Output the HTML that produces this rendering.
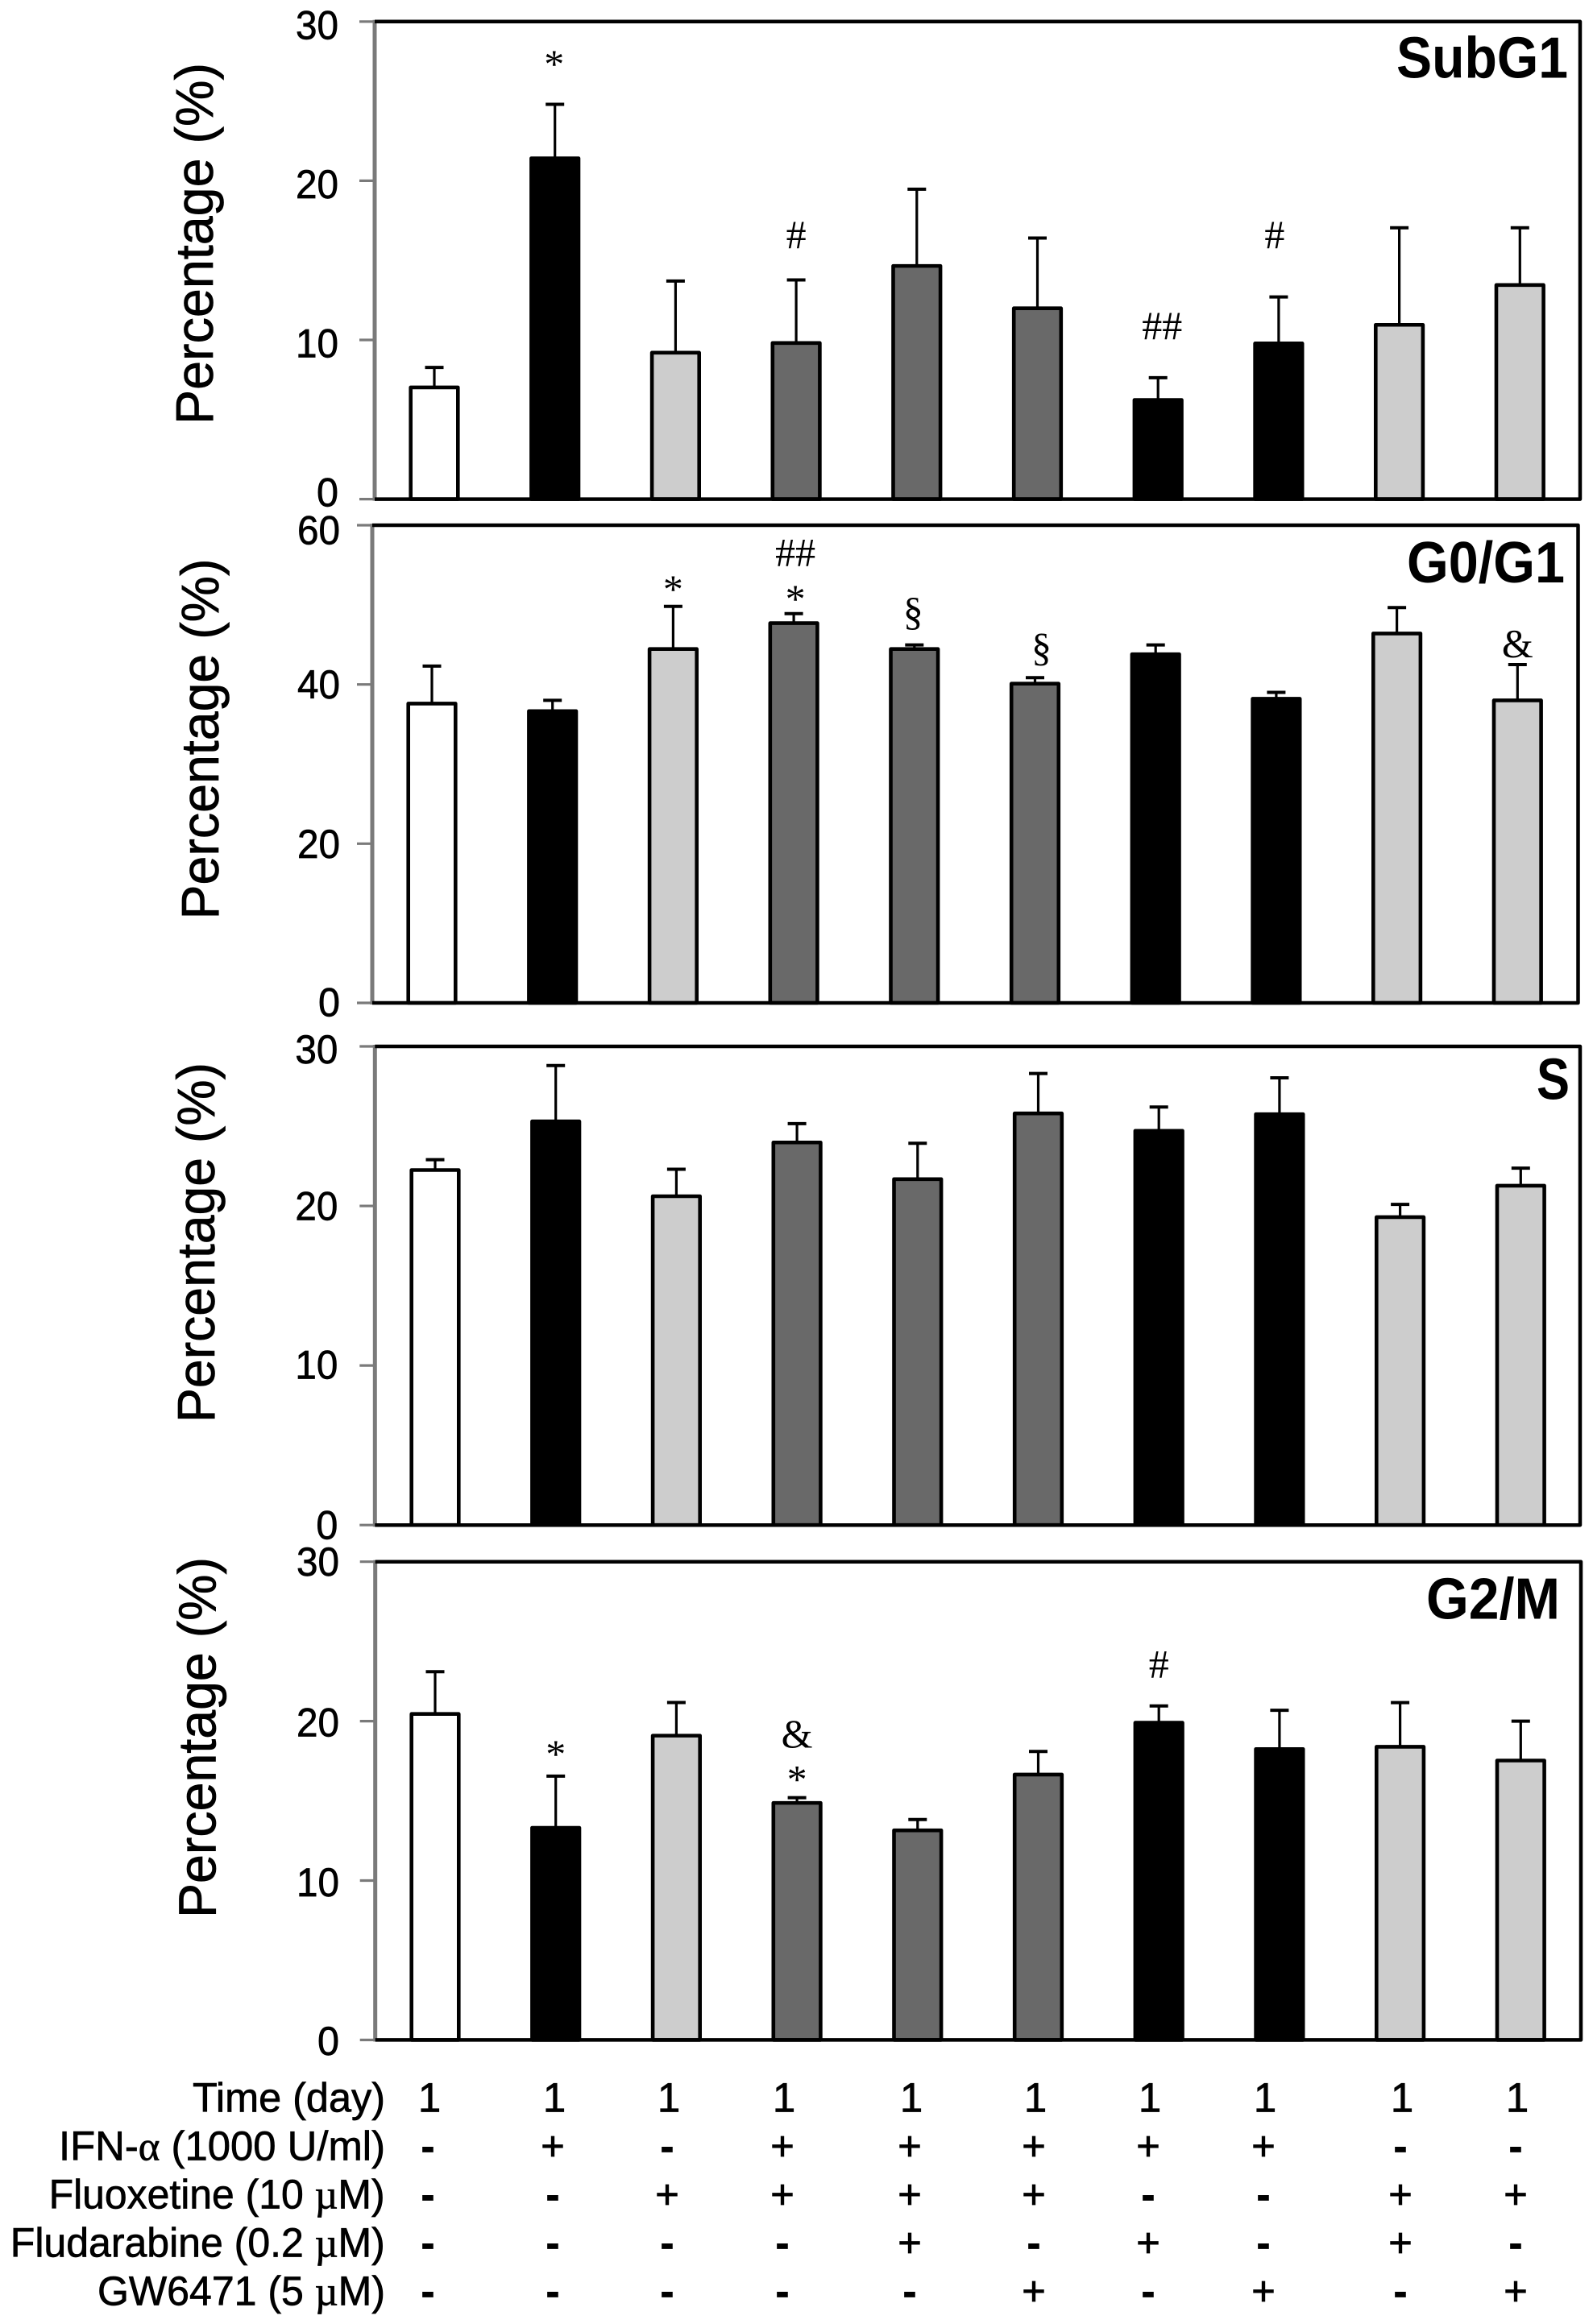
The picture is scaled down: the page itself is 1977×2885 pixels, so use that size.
<!DOCTYPE html>
<html lang="en">
<head>
<meta charset="utf-8">
<title>Cell cycle phase percentages</title>
<style>
  html, body { margin: 0; padding: 0; background: #fff; }
  svg { display: block; }
  text { fill: #000; font-family: "Liberation Sans", Arial, sans-serif; }
  .sig { font-family: "Liberation Serif", "Times New Roman", serif; font-size: 50px; text-anchor: middle; }
  .greek { font-family: "Liberation Serif", "Times New Roman", serif; }
  .heavy { stroke: #000; stroke-width: 0.7px; }
</style>
</head>
<body>
<svg id="figure" xmlns="http://www.w3.org/2000/svg" width="1977" height="2885" viewBox="0 0 1977 2885">
  <rect x="0" y="0" width="1977" height="2885" fill="#fff"/>
  <g id="panels"></g>
  <g id="treatment-table">
    <text class="heavy" x="239" y="2621.7" font-size="51" textLength="239" lengthAdjust="spacingAndGlyphs">Time (day)</text>
    <text class="heavy" x="73" y="2681.7" font-size="51" textLength="405" lengthAdjust="spacingAndGlyphs">IFN-<tspan class="greek">α</tspan> (1000 U/ml)</text>
    <text class="heavy" x="60.6" y="2741.7" font-size="51" textLength="417" lengthAdjust="spacingAndGlyphs">Fluoxetine (10 <tspan class="greek">µ</tspan>M)</text>
    <text class="heavy" x="12.8" y="2801.7" font-size="51" textLength="465" lengthAdjust="spacingAndGlyphs">Fludarabine (0.2 <tspan class="greek">µ</tspan>M)</text>
    <text class="heavy" x="121" y="2861.7" font-size="51" textLength="357" lengthAdjust="spacingAndGlyphs">GW6471 (5 <tspan class="greek">µ</tspan>M)</text>
  </g>
</svg>
<script>
// ---- chart data ----
const groupCategories = ['control', 'ifn', 'fluoxetine', 'ifn-fluoxetine', 'ifn-fluoxetine-fludarabine', 'ifn-fluoxetine-gw6471', 'ifn-fludarabine', 'ifn-gw6471', 'fluoxetine-fludarabine', 'fluoxetine-gw6471'];
const barFills = ['#ffffff', '#000000', '#cdcdcd', '#696969', '#696969', '#696969', '#000000', '#000000', '#cdcdcd', '#cdcdcd'];

const subG1Means = [7.07, 21.46, 9.25, 9.86, 14.7, 12.04, 6.28, 9.83, 11.0, 13.5];
const subG1Errors = [1.2, 3.34, 4.45, 3.91, 4.77, 4.36, 1.35, 2.87, 6.05, 3.55];
const g0g1Means = [37.7, 36.75, 44.55, 47.8, 44.55, 40.2, 43.9, 38.3, 46.5, 38.1];
const g0g1Errors = [4.6, 1.25, 5.25, 1.1, 0.41, 0.65, 1.06, 0.7, 3.16, 4.4];
const sMeans = [22.3, 25.35, 20.66, 24.03, 21.73, 25.85, 24.76, 25.8, 19.35, 21.32];
const sErrors = [0.6, 3.45, 1.64, 1.13, 2.2, 2.45, 1.44, 2.23, 0.75, 1.05];
const g2mMeans = [20.5, 13.36, 19.14, 14.92, 13.2, 16.7, 19.95, 18.3, 18.44, 17.58];
const g2mErrors = [2.6, 3.19, 2.03, 0.28, 0.63, 1.4, 1.0, 2.38, 2.72, 2.42];

const ticks30 = [0, 10, 20, 30];
const ticks60 = [0, 20, 40, 60];

const timeRow = ['1', '1', '1', '1', '1', '1', '1', '1', '1', '1'];
const ifnRow = ['-', '+', '-', '+', '+', '+', '+', '+', '-', '-'];
const fluoxetineRow = ['-', '-', '+', '+', '+', '+', '-', '-', '+', '+'];
const fludarabineRow = ['-', '-', '-', '-', '+', '-', '+', '-', '+', '-'];
const gw6471Row = ['-', '-', '-', '-', '-', '+', '-', '+', '-', '+'];

// ---- layout ----
const SVG_NS = 'http://www.w3.org/2000/svg';
const panelsRoot = document.getElementById('panels');
const tableRoot = document.getElementById('treatment-table');

const panelLayouts = [
  { key: 'subg1', title: 'SubG1', means: subG1Means, errors: subG1Errors, ticks: ticks30,
    axisX: 465, right: 1961, top: 26.8, bottom: 619.6, firstBar: 539, step: 149.7,
    labelRight: 420, labelNudge: [-8.6, 4, 4, 4],
    titleX: 1733, titleY: 96.5, titleW: 213,
    yTitleX: 264, yTitleY: 302.5, yTitleW: 449,
    marks: [ {i: 1, t: '*', gap: 33.6, dx: -1}, {i: 3, t: '#', gap: 39.5, dx: 0}, {i: 6, t: '##', gap: 47.8, dx: 5}, {i: 7, t: '#', gap: 60.6, dx: -5} ] },
  { key: 'g0g1', title: 'G0/G1', means: g0g1Means, errors: g0g1Errors, ticks: ticks60,
    axisX: 462, right: 1958.5, top: 652, bottom: 1245, firstBar: 536, step: 149.7,
    labelRight: 422, labelNudge: [-1, 0, 0, 6],
    titleX: 1746, titleY: 723, titleW: 196,
    yTitleX: 271, yTitleY: 917.5, yTitleW: 448,
    marks: [ {i: 2, t: '*', gap: 4.8, dx: 0}, {i: 3, t: '*', gap: 1.7, dx: 2}, {i: 3, t: '##', gap: 59, dx: 2}, {i: 4, t: '§', gap: 24.7, dx: -1.5}, {i: 5, t: '§', gap: 20.7, dx: 8}, {i: 9, t: '&', gap: 9.5, dx: 0} ] },
  { key: 's', title: 'S', means: sMeans, errors: sErrors, ticks: ticks30,
    axisX: 465.3, right: 1961, top: 1299, bottom: 1893.2, firstBar: 540, step: 149.7,
    labelRight: 419.4, labelNudge: [0, -1, 0, 3.6],
    titleX: 1907, titleY: 1364.5, titleW: 41,
    yTitleX: 266, yTitleY: 1542.5, yTitleW: 447,
    marks: [] },
  { key: 'g2m', title: 'G2/M', means: g2mMeans, errors: g2mErrors, ticks: ticks30,
    axisX: 465.7, right: 1962, top: 1938.7, bottom: 2532.4, firstBar: 540, step: 149.7,
    labelRight: 421, labelNudge: [1, 2, 1.5, 0],
    titleX: 1770, titleY: 2009.5, titleW: 166,
    yTitleX: 267.4, yTitleY: 2157, yTitleW: 448,
    marks: [ {i: 1, t: '*', gap: 10.9, dx: 0}, {i: 3, t: '*', gap: 6, dx: 0}, {i: 3, t: '&', gap: 62.8, dx: 0}, {i: 6, t: '#', gap: 35.3, dx: 0} ] }
];

function make(tag, attrs, parent) {
  const el = document.createElementNS(SVG_NS, tag);
  Object.keys(attrs).forEach(function (k) { el.setAttribute(k, attrs[k]); });
  parent.appendChild(el);
  return el;
}

panelLayouts.forEach(function (p) {
  const domainMax = p.ticks[p.ticks.length - 1];
  const yScale = function (v) { return p.bottom - (v / domainMax) * (p.bottom - p.top); };
  const xScale = function (i) { return p.firstBar + i * p.step; };

  const g = make('g', {}, panelsRoot);
  
  

  // y axis line
  const axis = make('line', { x1: p.axisX, x2: p.axisX, y1: p.top - 2, y2: p.bottom + 2, stroke: '#7a7a7a', 'stroke-width': 5 }, g);
  
  

  // ticks + labels
  p.ticks.forEach(function (t, idx) {
    const tick = make('line', { x1: p.axisX - 19, x2: p.axisX, y1: yScale(t), y2: yScale(t), stroke: '#7a7a7a', 'stroke-width': 3.2 }, g);
    
    
    const lab = make('text', { x: p.labelRight, y: yScale(t) + 17.5 + p.labelNudge[idx], 'font-size': 50, 'text-anchor': 'end', textLength: String(t).length === 2 ? 53 : 27, lengthAdjust: 'spacingAndGlyphs', 'class': 'heavy' }, g);
    lab.textContent = String(t);
    
    
  });

  // y title
  const yt = make('text', {
    x: 0, y: 0, 'font-size': 66, 'text-anchor': 'middle',
    textLength: p.yTitleW, lengthAdjust: 'spacingAndGlyphs',
    transform: 'translate(' + p.yTitleX + ' ' + p.yTitleY + ') rotate(-90)',
    'class': 'heavy'
  }, g);
  yt.textContent = 'Percentage (%)';
  
  

  // bars and error bars
  groupCategories.forEach(function (cat, i) {
    const cx = xScale(i);
    const mean = p.means[i];
    const upper = mean + p.errors[i];

    const stem = make('line', { x1: cx, x2: cx, y1: yScale(upper), y2: yScale(mean) + 3, stroke: '#000', 'stroke-width': 3.2 }, g);
    
    

    const cap = make('line', { x1: cx - 11.5, x2: cx + 11.5, y1: yScale(upper), y2: yScale(upper), stroke: '#000', 'stroke-width': 4 }, g);
    
    

    const topY = yScale(mean) + 1;
    const bar = make('rect', { x: cx - 29.3, y: topY, width: 58.6, height: p.bottom - topY, fill: barFills[i], stroke: '#000', 'stroke-width': 4.6, 'stroke-linejoin': 'round' }, g);
    
    
  });

  // frame (top, right, bottom)
  const frame = make('path', {
    d: 'M' + p.axisX + ' ' + p.top + 'H' + p.right + 'V' + p.bottom + 'H' + p.axisX,
    fill: 'none', stroke: '#000', 'stroke-width': 4.5, 'stroke-linejoin': 'round'
  }, g);
  
  

  // significance marks
  p.marks.forEach(function (m, n) {
    const upper = p.means[m.i] + p.errors[m.i];
    const mk = make('text', { x: xScale(m.i) + m.dx, y: yScale(upper) - m.gap, 'class': 'sig' }, g);
    mk.textContent = m.t;
    
    
  });

  // panel title
  const title = make('text', { x: p.titleX, y: p.titleY, 'font-size': 72, 'font-weight': 'bold', textLength: p.titleW, lengthAdjust: 'spacingAndGlyphs' }, g);
  title.textContent = p.title;
  
  
});

// treatment table symbols
const tableLayout = [
  { key: 'time', cells: timeRow, baseline: 2621.7 },
  { key: 'ifn', cells: ifnRow, baseline: 2681.7 },
  { key: 'fluoxetine', cells: fluoxetineRow, baseline: 2741.7 },
  { key: 'fludarabine', cells: fludarabineRow, baseline: 2801.7 },
  { key: 'gw6471', cells: gw6471Row, baseline: 2861.7 }
];
const tableColumnCentres = [531, 686, 828, 971, 1129, 1283, 1425, 1568, 1738, 1881];

tableLayout.forEach(function (row) {
  row.cells.forEach(function (sym, c) {
    const nudge = sym === '1' ? 2 : 0;
    const cell = make('text', { x: tableColumnCentres[c] + nudge, y: row.baseline, 'font-size': 51, 'text-anchor': 'middle', 'font-weight': sym === '-' ? 'bold' : 'normal', 'class': 'heavy' }, tableRoot);
    cell.textContent = sym;
    
    
  });
});
</script>
</body>
</html>
